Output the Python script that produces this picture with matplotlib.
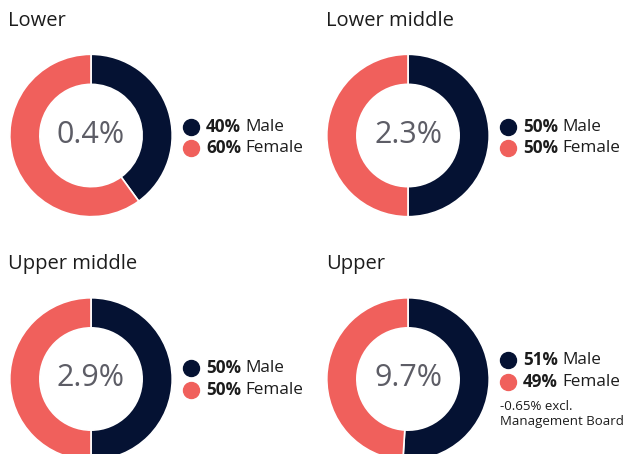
import matplotlib
matplotlib.use("Agg")
import matplotlib.pyplot as plt
from matplotlib.lines import Line2D

plt.rcParams['font.family'] = ['Open Sans', 'DejaVu Sans']

titles = ["Lower", "Lower middle", "Upper middle", "Upper"]
center_labels = ["0.4%", "2.3%", "2.9%", "9.7%"]
male = [40, 50, 50, 51]
female = [60, 50, 50, 49]
notes = ["", "", "", "-0.65% excl.\nManagement Board"]

NAVY = "#051233"
CORAL = "#F0605C"
TEXT = "#1c1c1c"
GRAY = "#5d5d66"

W, H = 629, 454
fig = plt.figure(figsize=(W / 100, H / 100), dpi=100)
fig.patch.set_facecolor("white")

def fx(x):
    return x / W

def fy(y):
    return 1 - y / H

centers = [(91, 135.5), (408, 135.5), (91, 379), (408, 379)]
title_pos = [(8, 21), (326, 21), (8, 264), (326, 264)]
legend_y = [(127, 148), (127, 148), (368, 390), (360, 382)]
R = 82

renderer = fig.canvas.get_renderer()

for i in range(4):
    cx, cy = centers[i]
    ax = fig.add_axes([fx(cx - R), fy(cy + R), 2 * R / W, 2 * R / H])
    ax.pie([male[i], female[i]], colors=[NAVY, CORAL], startangle=90,
           counterclock=False, radius=1.0,
           wedgeprops=dict(width=0.37, edgecolor="white", linewidth=1.2))
    ax.set_xlim(-1.01, 1.01)
    ax.set_ylim(-1.01, 1.01)
    ax.set_aspect("equal")
    ax.axis("off")
    ax.text(0, 0.01, center_labels[i], ha="center", va="center",
            fontsize=22, color=GRAY)

    tx, ty = title_pos[i]
    fig.text(fx(tx), fy(ty), titles[i], ha="left", va="center",
             fontsize=14.5, color=TEXT)

    lx = cx + 100
    rows = [(male[i], "Male", NAVY), (female[i], "Female", CORAL)]
    for j, (val, lab, col) in enumerate(rows):
        ly = legend_y[i][j]
        fig.add_artist(Line2D([fx(lx)], [fy(ly)], marker="o", markersize=11.5,
                              color=col, linestyle="none",
                              transform=fig.transFigure))
        t = fig.text(fx(lx + 15), fy(ly), f"{val}%", ha="left", va="center",
                     fontsize=12.3, fontweight="bold", color=TEXT)
        bb = t.get_window_extent(renderer=renderer)
        fig.text(bb.x1 / W + 4 / W, fy(ly), lab, ha="left", va="center",
                 fontsize=12.3, color=TEXT)
    if notes[i]:
        for k, line in enumerate(notes[i].split("\n")):
            fig.text(fx(lx - 8), fy(legend_y[i][1] + 24 + k * 15), line,
                     ha="left", va="center", fontsize=9.5, color=TEXT)

fig.savefig("out.png", dpi=100, facecolor="white")
